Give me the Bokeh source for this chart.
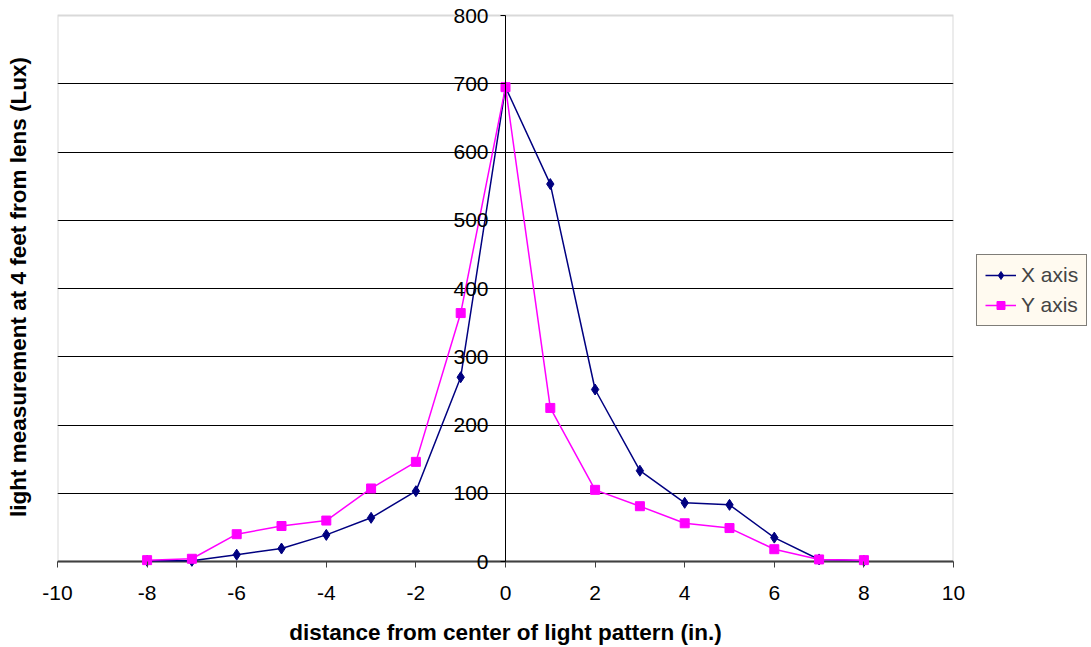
from bokeh.plotting import figure
from bokeh.models import FixedTicker, LinearAxis, Legend, LegendItem, Range1d, BoxAnnotation, Span
from bokeh.embed import file_html
from bokeh.resources import INLINE

# ---- data ----
distance = [-8, -7, -6, -5, -4, -3, -2, -1, 0, 1, 2, 3, 4, 5, 6, 7, 8]
x_axis_lux = [1, 1, 10, 19, 39, 64, 103, 270, 695, 553, 252, 133, 86, 83, 35, 3, 1]
y_axis_lux = [2, 4, 40, 52, 60, 107, 146, 364, 695, 225, 105, 81, 56, 49, 18, 3, 2]

x_ticks = [-10, -8, -6, -4, -2, 0, 2, 4, 6, 8, 10]
x_tick_labels = ["-10", "-8", "-6", "-4", "-2", "0", "2", "4", "6", "8", "10"]
y_ticks = [0, 100, 200, 300, 400, 500, 600, 700, 800]
y_tick_labels = ["0", "100", "200", "300", "400", "500", "600", "700", "800"]

series_names = ["X axis", "Y axis"]
x_title = "distance from center of light pattern (in.)"
y_title = "light measurement at 4 feet from lens (Lux)"

X_MIN, X_MAX = -10, 10
Y_MIN, Y_MAX = 0, 800

FONT = "Liberation Sans"
NAVY = "#000080"
MAGENTA = "#FF00FF"
BORDER = "#808080"
AXIS = "#404040"

# plot area is 546 px tall; the frame is padded so that the axis
# labels that sit at its top/bottom edges are not clipped
PLOT_H = 546
units_per_px = (Y_MAX - Y_MIN) / PLOT_H
PAD_TOP, PAD_BOTTOM = 15, 12
TICK_LEN = 6

p = figure(
    frame_width=896, frame_height=PLOT_H + PAD_TOP + PAD_BOTTOM,
    x_range=Range1d(X_MIN, X_MAX),
    y_range=Range1d(Y_MIN - PAD_BOTTOM * units_per_px, Y_MAX + PAD_TOP * units_per_px),
    output_backend="svg", toolbar_location=None,
    min_border_left=57, min_border_right=138,
    min_border_top=0, min_border_bottom=74,
    background_fill_color="white", border_fill_color="white",
    outline_line_color=None,
)

# plot-area border
p.add_layout(BoxAnnotation(left=X_MIN, right=X_MAX, bottom=Y_MIN, top=Y_MAX,
                           fill_color=None, line_color=BORDER, line_width=2,
                           level="underlay"))

# grid (top line is the gray border)
p.xgrid.visible = False
p.ygrid.ticker = FixedTicker(ticks=y_ticks[:-1])
p.ygrid.grid_line_color = "black"
p.ygrid.grid_line_width = 1

# x axis line at y = 0
p.add_layout(Span(location=Y_MIN, dimension="width", line_color=AXIS,
                  line_width=2, level="underlay"))

# y axis crossing at x = 0
ya = p.yaxis[0]
ya.fixed_location = 0
ya.bounds = (Y_MIN, Y_MAX)
ya.ticker = FixedTicker(ticks=y_ticks)
ya.major_label_overrides = {t: s for t, s in zip(y_ticks, y_tick_labels)}
ya.major_tick_out = 5
ya.major_tick_in = 0
ya.minor_tick_out = 0
ya.minor_tick_in = 0
ya.axis_line_color = "black"
ya.axis_line_width = 1
ya.major_tick_line_color = "black"
ya.major_label_text_font = FONT
ya.major_label_text_font_size = "21px"
ya.major_label_text_color = "black"
ya.major_label_standoff = 12

# y title on the far left
lab_axis = LinearAxis(
    axis_label=y_title,
    axis_label_text_font=FONT, axis_label_text_font_style="bold",
    axis_label_text_font_size="22.5px", axis_label_text_color="black",
    axis_label_standoff=27,
    ticker=FixedTicker(ticks=[]),
    axis_line_color=None, major_tick_line_color=None, minor_tick_line_color=None,
    major_tick_out=0, minor_tick_out=0, major_tick_in=0, minor_tick_in=0,
)
p.add_layout(lab_axis, "left")

# x ticks (from y = 0 downwards), tick labels and title under the frame
xa = p.xaxis[0]
xa.ticker = FixedTicker(ticks=x_ticks)
xa.major_label_overrides = {t: s for t, s in zip(x_ticks, x_tick_labels)}
xa.axis_line_color = None
xa.major_tick_line_color = AXIS
xa.major_tick_line_width = 1
xa.minor_tick_line_color = None
xa.major_tick_in = PAD_BOTTOM
xa.major_tick_out = TICK_LEN - PAD_BOTTOM
xa.minor_tick_out = 0
xa.minor_tick_in = 0
xa.major_label_text_font = FONT
xa.major_label_text_font_size = "21px"
xa.major_label_text_color = "black"
xa.major_label_standoff = 12
xa.axis_label = x_title
xa.axis_label_text_font = FONT
xa.axis_label_text_font_style = "bold"
xa.axis_label_text_font_size = "22.5px"
xa.axis_label_text_color = "black"
xa.axis_label_standoff = 17

# series
r1 = p.line(distance, x_axis_lux, line_color=NAVY, line_width=1.5)
s1 = p.scatter(distance, x_axis_lux, marker="diamond", size=11,
               fill_color=NAVY, line_color=NAVY)
r2 = p.line(distance, y_axis_lux, line_color=MAGENTA, line_width=1.5)
s2 = p.scatter(distance, y_axis_lux, marker="square", size=9,
               fill_color=MAGENTA, line_color=MAGENTA)

legend = Legend(
    items=[LegendItem(label=series_names[0], renderers=[r1, s1]),
           LegendItem(label=series_names[1], renderers=[r2, s2])],
    location=(23, 247),
    background_fill_color="#FFFAF0", background_fill_alpha=1,
    border_line_color="black", border_line_width=1,
    label_text_font=FONT, label_text_font_size="21px",
    glyph_width=31, glyph_height=20, label_standoff=5,
    padding=8, spacing=6, margin=0,
)
p.add_layout(legend, "right")

open("out.html", "w").write(file_html(p, INLINE))
